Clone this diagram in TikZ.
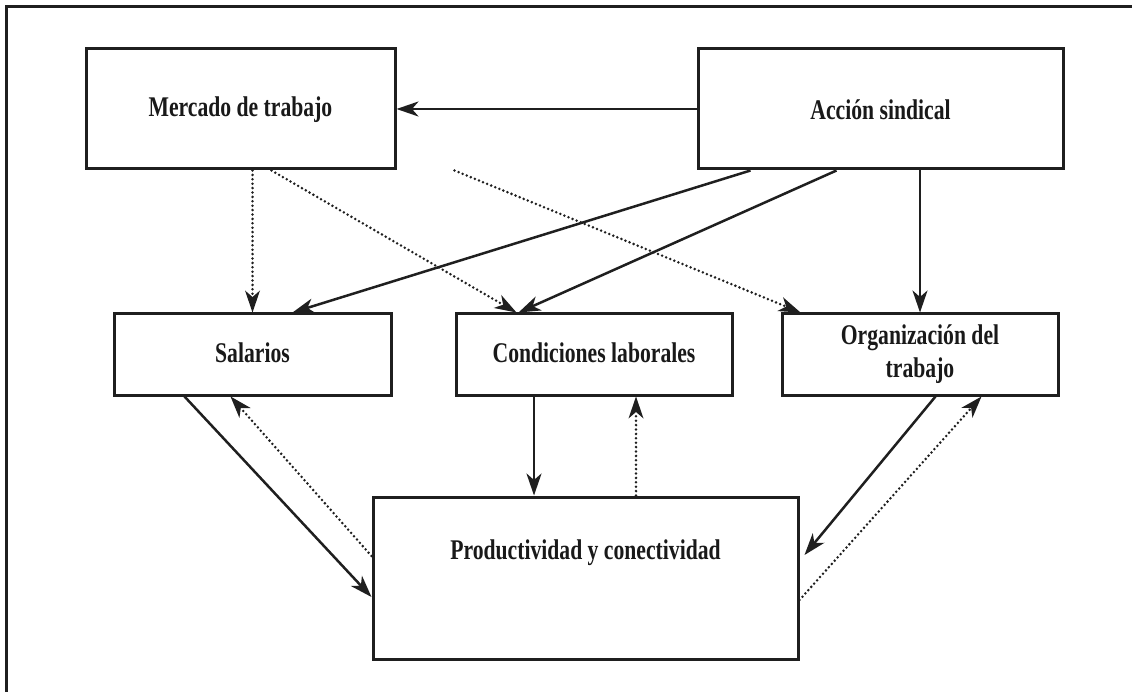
\documentclass[tikz,border=0pt]{standalone}
\usepackage{fontspec}
\newfontfamily\labfont[FakeStretch=0.76]{Liberation Serif}
\usetikzlibrary{arrows.meta,calc}
\tikzset{
  box/.style={draw=black!88, line width=3pt, rectangle, inner sep=0pt},
  lab/.style={font=\labfont\bfseries\fontsize{28.5}{33}\selectfont, text=black!90, align=center},
  solidarr/.style={draw=black!88, line width=2.5pt, -{Stealth[length=22pt,width=15pt,inset=6.5pt]}},
  dotarr/.style={draw=black!88, line width=2.8pt, line cap=round, dash pattern=on 0pt off 4.4pt, -{Stealth[length=22pt,width=15pt,inset=6.5pt,line width=0pt]}}
}
\begin{document}
\begin{tikzpicture}[x=1pt,y=-1pt]
\useasboundingbox (0,0) rectangle (1132,692);
\coordinate (fbl) at (6,692);
\coordinate (ftl) at (6,7);
\coordinate (ftr) at (1132,7);
\draw[line width=3pt, draw=black!88] (fbl) -- (ftl) -- (ftr);

\node[box, minimum width=309pt, minimum height=120pt] (merc) at (240.5,109) {};
\node[lab] (merct) at (240.5,110) {Mercado de trabajo};
\node[box, minimum width=365pt, minimum height=120pt] (acc) at (880.5,109) {};
\node[lab] (acct) at (880.5,110) {Acción sindical};
\node[box, minimum width=277pt, minimum height=81pt] (sal) at (252.5,354.5) {};
\node[lab] (salt) at (252.5,353) {Salarios};
\node[box, minimum width=276pt, minimum height=81pt] (cond) at (594,354.5) {};
\node[lab] (condt) at (594,353) {Condiciones laborales};
\node[box, minimum width=276pt, minimum height=81pt] (org) at (920,354.5) {};
\node[lab] (orgt) at (920,354) {Organización del\\trabajo};
\node[box, minimum width=425pt, minimum height=162pt] (prod) at (585.5,578) {};
\node[lab] (prodt) at (585.5,553) {Productividad y conectividad};

% solid arrows
\draw[solidarr] (acc.west) -- (merc.east);
\draw[solidarr] ([xshift=54pt]acc.south west) -- ([xshift=180pt]sal.north west);
\draw[solidarr] ([xshift=140pt]acc.south west) -- ([xshift=64pt]cond.north west);
\draw[solidarr] (org.north |- acc.south) -- (org.north);
\draw[solidarr] ([xshift=72pt]sal.south west) -- ([yshift=-19pt]prod.west);
\draw[solidarr] ([xshift=-60pt]cond.south) -- ([xshift=-60pt]cond.south |- prod.north);
\draw[solidarr] ([xshift=155pt]org.south west) -- ([xshift=5pt,yshift=23pt]prod.east);

% dotted arrows
\draw[dotarr] (sal.north |- merc.south) -- (sal.north);
\draw[dotarr] ([xshift=187pt]merc.south west) -- ([xshift=62pt]cond.north west);
\draw[dotarr] ([xshift=370pt]merc.south west) -- ([xshift=20pt]org.north west);
\draw[dotarr] ([yshift=22pt]prod.west) -- ([xshift=118pt]sal.south west);
\draw[dotarr] ([xshift=42pt]cond.south |- prod.north) -- ([xshift=42pt]cond.south);
\draw[dotarr] ([yshift=-22pt]prod.east) -- ([xshift=201pt]org.south west);
\end{tikzpicture}
\end{document}
